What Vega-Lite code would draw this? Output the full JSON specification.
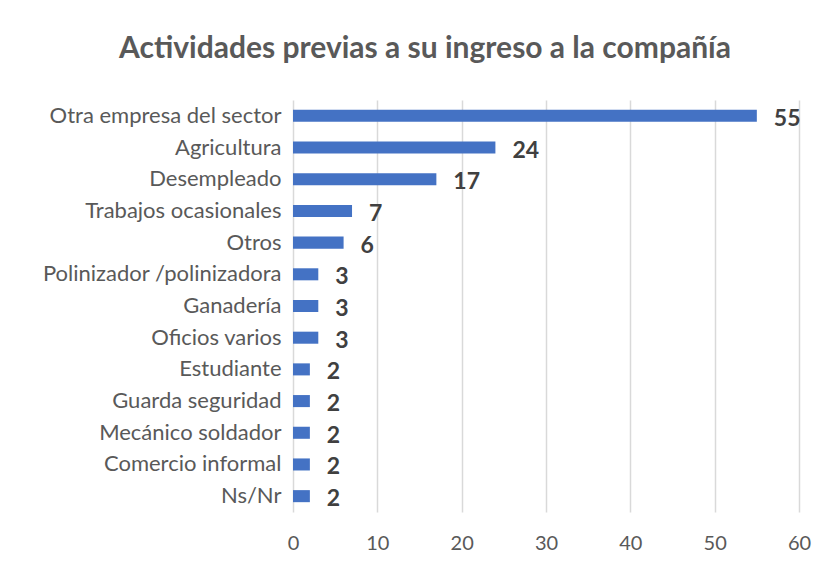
{
  "$schema": "https://vega.github.io/schema/vega-lite/v6.json",
  "width": 506,
  "height": 412,
  "autosize": {"type": "none"},
  "padding": {"left": 293, "top": 100, "right": 30, "bottom": 57},
  "background": "white",
  "config": {"view": {"stroke": null}, "font": "Lato"},
  "title": {
    "text": "Actividades previas a su ingreso a la compañía",
    "fontSize": 30,
    "fontWeight": "bold",
    "color": "#595959",
    "font": "Lato",
    "anchor": "middle",
    "dx": -121,
    "offset": 36
  },
  "data": {
    "values": [
      {"actividad": "Otra empresa del sector", "valor": 55},
      {"actividad": "Agricultura", "valor": 24},
      {"actividad": "Desempleado", "valor": 17},
      {"actividad": "Trabajos ocasionales", "valor": 7},
      {"actividad": "Otros", "valor": 6},
      {"actividad": "Polinizador /polinizadora", "valor": 3},
      {"actividad": "Ganadería", "valor": 3},
      {"actividad": "Oficios varios", "valor": 3},
      {"actividad": "Estudiante", "valor": 2},
      {"actividad": "Guarda seguridad", "valor": 2},
      {"actividad": "Mecánico soldador", "valor": 2},
      {"actividad": "Comercio informal ", "valor": 2},
      {"actividad": "Ns/Nr", "valor": 2}
    ]
  },
  "encoding": {
    "y": {
      "field": "actividad",
      "type": "nominal",
      "sort": null,
      "scale": {"paddingInner": 0.62, "paddingOuter": 0.31},
      "axis": {
        "title": null,
        "ticks": false,
        "domain": false,
        "labelFontSize": 22,
        "labelColor": "#595959",
        "labelPadding": 12,
        "labelLimit": 300,
        "labelFont": "Lato"
      }
    },
    "x": {
      "field": "valor",
      "type": "quantitative",
      "scale": {"domain": [0, 60], "nice": false},
      "axis": {
        "title": null,
        "values": [0, 10, 20, 30, 40, 50, 60],
        "ticks": false,
        "domain": false,
        "grid": true,
        "gridColor": "#d9d9d9",
        "gridWidth": 1.5,
        "labelFlush": false,
        "labelFontSize": 20,
        "labelColor": "#595959",
        "labelPadding": 21,
        "labelFont": "Lato"
      }
    }
  },
  "layer": [
    {"mark": {"type": "bar", "color": "#4472C4"}},
    {
      "mark": {
        "type": "text",
        "align": "left",
        "baseline": "middle",
        "dx": 17,
        "dy": 3,
        "fontSize": 23,
        "fontWeight": "bold",
        "color": "#404040",
        "font": "Lato"
      },
      "encoding": {"text": {"field": "valor", "type": "quantitative"}}
    }
  ]
}
